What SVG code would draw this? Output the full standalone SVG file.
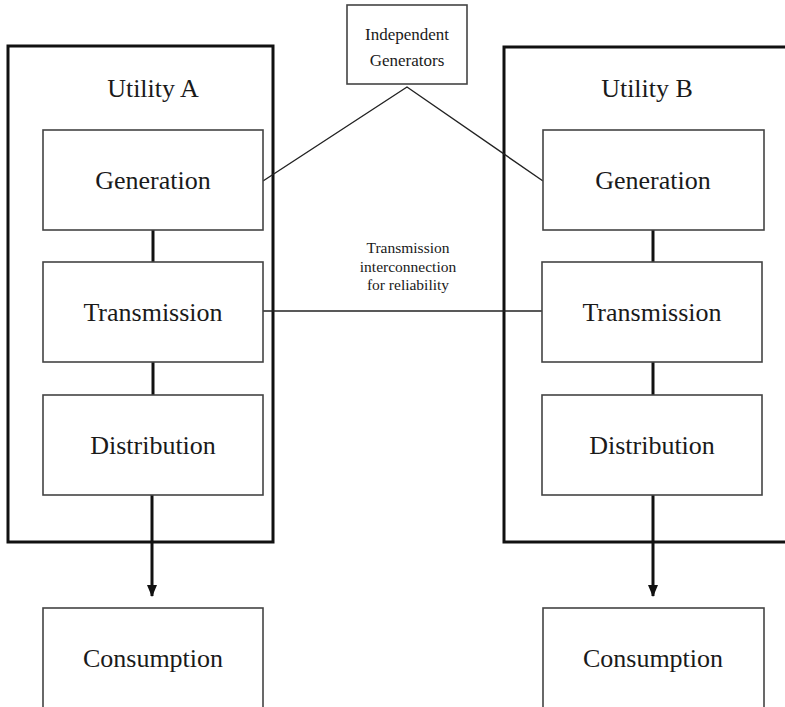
<svg xmlns="http://www.w3.org/2000/svg" width="785" height="707" viewBox="0 0 785 707">
<defs>
<style>
.outer{fill:none;stroke:#111;stroke-width:3}
.box{fill:#fff;stroke:#444;stroke-width:1.6}
.t{font-family:"Liberation Serif","Times New Roman",serif;fill:#1a1a1a;text-anchor:middle}
.big{font-size:26px}
.lbl{font-size:26px}
.sm{font-size:15.5px}
.thick{stroke:#111;stroke-width:3;fill:none}
.thin{stroke:#222;stroke-width:1.4;fill:none}
</style>
<marker id="arr" viewBox="0 0 12 10" refX="11" refY="5" markerWidth="12" markerHeight="10" markerUnits="userSpaceOnUse" orient="auto">
<path d="M0,0 L12,5 L0,10 Z" fill="#111"/>
</marker>
</defs>
<rect width="785" height="707" fill="#fff"/>
<g id="utilityA">
<rect class="outer" x="8" y="46" width="265" height="496"/>
<text class="t lbl" x="153" y="97">Utility A</text>
</g>
<g id="utilityB">
<rect class="outer" x="504" y="47" width="290" height="495"/>
<text class="t lbl" x="647" y="97">Utility B</text>
</g>
<g id="connectors">
<line class="thick" x1="153" y1="230" x2="153" y2="262"/>
<line class="thick" x1="153" y1="362" x2="153" y2="395"/>
<line class="thick" x1="152" y1="495" x2="152" y2="596" marker-end="url(#arr)"/>
<line class="thick" x1="653" y1="230" x2="653" y2="262"/>
<line class="thick" x1="653" y1="362" x2="653" y2="395"/>
<line class="thick" x1="653" y1="495" x2="653" y2="596" marker-end="url(#arr)"/>
<polyline class="thin" points="263,181 407,87 543,181"/>
<line class="thin" x1="263" y1="311" x2="542" y2="311"/>
<text class="t sm" x="408" y="253">Transmission</text>
<text class="t sm" x="408" y="272">interconnection</text>
<text class="t sm" x="408" y="290">for reliability</text>
</g>
<g id="genA"><rect class="box" x="43" y="130" width="220" height="100"/><text class="t big" x="153" y="189">Generation</text></g>
<g id="transA"><rect class="box" x="43" y="262" width="220" height="100"/><text class="t big" x="153" y="321">Transmission</text></g>
<g id="distA"><rect class="box" x="43" y="395" width="220" height="100"/><text class="t big" x="153" y="454">Distribution</text></g>
<g id="consA"><rect class="box" x="43" y="608" width="220" height="104"/><text class="t big" x="153" y="667">Consumption</text></g>
<g id="genB"><rect class="box" x="543" y="130" width="221" height="100"/><text class="t big" x="653" y="189">Generation</text></g>
<g id="transB"><rect class="box" x="542" y="262" width="220" height="100"/><text class="t big" x="652" y="321">Transmission</text></g>
<g id="distB"><rect class="box" x="542" y="395" width="220" height="100"/><text class="t big" x="652" y="454">Distribution</text></g>
<g id="consB"><rect class="box" x="543" y="608" width="221" height="104"/><text class="t big" x="653" y="667">Consumption</text></g>
<g id="indep"><rect class="box" x="347" y="5" width="120" height="79"/><text class="t" style="font-size:17px" x="407" y="40">Independent</text><text class="t" style="font-size:17px" x="407" y="66">Generators</text></g>
</svg>
